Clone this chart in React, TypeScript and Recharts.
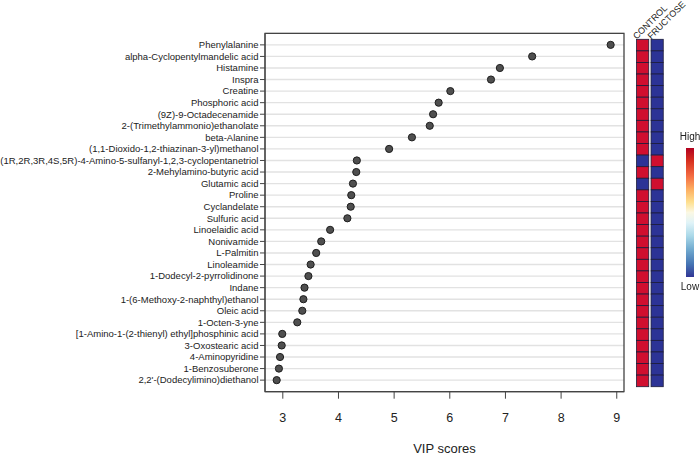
import { ScatterChart, Scatter, XAxis, YAxis, CartesianGrid, ReferenceArea } from "recharts";

const metabolites = [
  "Phenylalanine",
  "alpha-Cyclopentylmandelic acid",
  "Histamine",
  "Inspra",
  "Creatine",
  "Phosphoric acid",
  "(9Z)-9-Octadecenamide",
  "2-(Trimethylammonio)ethanolate",
  "beta-Alanine",
  "(1,1-Dioxido-1,2-thiazinan-3-yl)methanol",
  "(1R,2R,3R,4S,5R)-4-Amino-5-sulfanyl-1,2,3-cyclopentanetriol",
  "2-Mehylamino-butyric acid",
  "Glutamic acid",
  "Proline",
  "Cyclandelate",
  "Sulfuric acid",
  "Linoelaidic acid",
  "Nonivamide",
  "L-Palmitin",
  "Linoleamide",
  "1-Dodecyl-2-pyrrolidinone",
  "Indane",
  "1-(6-Methoxy-2-naphthyl)ethanol",
  "Oleic acid",
  "1-Octen-3-yne",
  "[1-Amino-1-(2-thienyl) ethyl]phosphinic acid",
  "3-Oxostearic acid",
  "4-Aminopyridine",
  "1-Benzosuberone",
  "2,2'-(Dodecylimino)diethanol",
];

const vipScores = [
  8.89, 7.48, 6.9, 6.74, 6.01, 5.8, 5.7, 5.64, 5.32, 4.91,
  4.33, 4.32, 4.26, 4.23, 4.22, 4.16, 3.85, 3.69, 3.6, 3.5,
  3.46, 3.39, 3.37, 3.35, 3.26, 2.99, 2.98, 2.95, 2.93, 2.89,
];

// 1 = high, 0 = low
const controlLevel = [1, 1, 1, 1, 1, 1, 1, 1, 1, 1, 0, 1, 0, 1, 1, 1, 1, 1, 1, 1, 1, 1, 1, 1, 1, 1, 1, 1, 1, 1];
const fructoseLevel = [0, 0, 0, 0, 0, 0, 0, 0, 0, 0, 1, 0, 1, 0, 0, 0, 0, 0, 0, 0, 0, 0, 0, 0, 0, 0, 0, 0, 0, 0];

const groups = ["CONTROL", "FRUCTOSE"];
const xTicks = [3, 4, 5, 6, 7, 8, 9];

const W = 700;
const H = 454;
const FONT = "'Liberation Sans', Arial, sans-serif";
const HIGH = "#d00f2f";
const LOW = "#2c3396";

const heatTop = 39.3;
const heatBottom = 386.7;
const heatLeft = 635.4;
const heatRight = 664.4;
const cellH = (heatBottom - heatTop) / metabolites.length;
const cellW = 12.2;

const rows = metabolites.map((name, i) => ({ name, vip: vipScores[i], row: i + 1 }));
const heatCells = metabolites.flatMap((name, i) => [
  { name, col: 0, row: i + 1, level: controlLevel[i] },
  { name, col: 1, row: i + 1, level: fructoseLevel[i] },
]);

const Dot = (p: any) => (
  <circle cx={p.cx} cy={p.cy} r={3.6} fill="#4f4f4f" stroke="#1e1e1e" strokeWidth={1} />
);

const NameTick = (p: any) => (
  <text x={p.x} y={p.y} dy="0.35em" textAnchor="end" fontSize={9.5} fill="#222" fontFamily={FONT}>
    {metabolites[p.payload.value - 1]}
  </text>
);

const HeatCell = (p: any) => (
  <rect
    x={p.cx - cellW / 2}
    y={p.cy - cellH / 2}
    width={cellW}
    height={cellH}
    fill={p.payload.level ? HIGH : LOW}
    stroke="#1c1c3a"
    strokeWidth={0.8}
  />
);

const GroupTick = (p: any) => {
  const x = p.x - 6;
  const y = heatTop + 0.5;
  return (
    <text
      x={x}
      y={y}
      transform={`rotate(-45, ${x}, ${y})`}
      textAnchor="start"
      fontSize={9}
      fill="#222"
      fontFamily={FONT}
    >
      {groups[p.payload.value]}
    </text>
  );
};

export default function App() {
  return (
    <div style={{ position: "fixed", left: 0, top: 0, width: W, height: H, background: "#fff", fontFamily: FONT }}>
      <div style={{ position: "absolute", left: 0, top: 0 }}>
        <ScatterChart width={W} height={H} margin={{ top: 33.3, right: 76, bottom: 0, left: 0 }}>
          <CartesianGrid vertical={false} stroke="#e2e2e2" strokeWidth={1.4} />
          <XAxis
            type="number"
            dataKey="vip"
            domain={[2.68, 9.13]}
            ticks={xTicks}
            allowDataOverflow
            height={62.3}
            tickSize={7}
            tickMargin={14}
            stroke="#444"
            tick={{ fill: "#222", fontSize: 12.5, fontFamily: FONT }}
            label={{ value: "VIP scores", position: "insideBottom", offset: 1.5, fill: "#222", fontSize: 13, fontFamily: FONT }}
          />
          <YAxis
            type="number"
            dataKey="row"
            domain={[0, 31]}
            reversed
            ticks={rows.map((r) => r.row)}
            interval={0}
            width={265}
            tickSize={5}
            tickMargin={1.5}
            stroke="#444"
            tick={NameTick}
          />
          <ReferenceArea x1={2.68} x2={9.13} y1={0} y2={31} fill="none" stroke="#444" strokeWidth={1.3} />
          <Scatter data={rows} shape={Dot} isAnimationActive={false} />
        </ScatterChart>
      </div>
      <div style={{ position: "absolute", left: 0, top: 0 }}>
        <ScatterChart
          width={W}
          height={H}
          margin={{ top: heatTop - 30, right: W - heatRight, bottom: H - heatBottom, left: heatLeft }}
        >
          <XAxis
            type="number"
            dataKey="col"
            orientation="top"
            domain={[-0.5, 1.5]}
            ticks={[0, 1]}
            height={30}
            axisLine={false}
            tickLine={false}
            tick={GroupTick}
          />
          <YAxis type="number" dataKey="row" domain={[0.5, 30.5]} reversed hide />
          <Scatter data={heatCells} shape={HeatCell} isAnimationActive={false} />
        </ScatterChart>
      </div>
      <div
        style={{
          position: "absolute",
          left: 685.7,
          top: 148.3,
          width: 8.3,
          height: 128.4,
          background:
            "linear-gradient(to bottom, #b2001f 0%, #d7301f 10%, #f46d43 22%, #fdae61 32%, #fee090 42%, #fbf8e4 50%, #e0f3f8 58%, #abd9e9 68%, #74add1 78%, #4575b4 90%, #313695 100%)",
        }}
      />
      <div style={{ position: "absolute", left: 670, width: 40, top: 131, textAlign: "center", fontSize: 10, color: "#222" }}>
        High
      </div>
      <div style={{ position: "absolute", left: 670, width: 40, top: 281, textAlign: "center", fontSize: 10, color: "#222" }}>
        Low
      </div>
    </div>
  );
}
